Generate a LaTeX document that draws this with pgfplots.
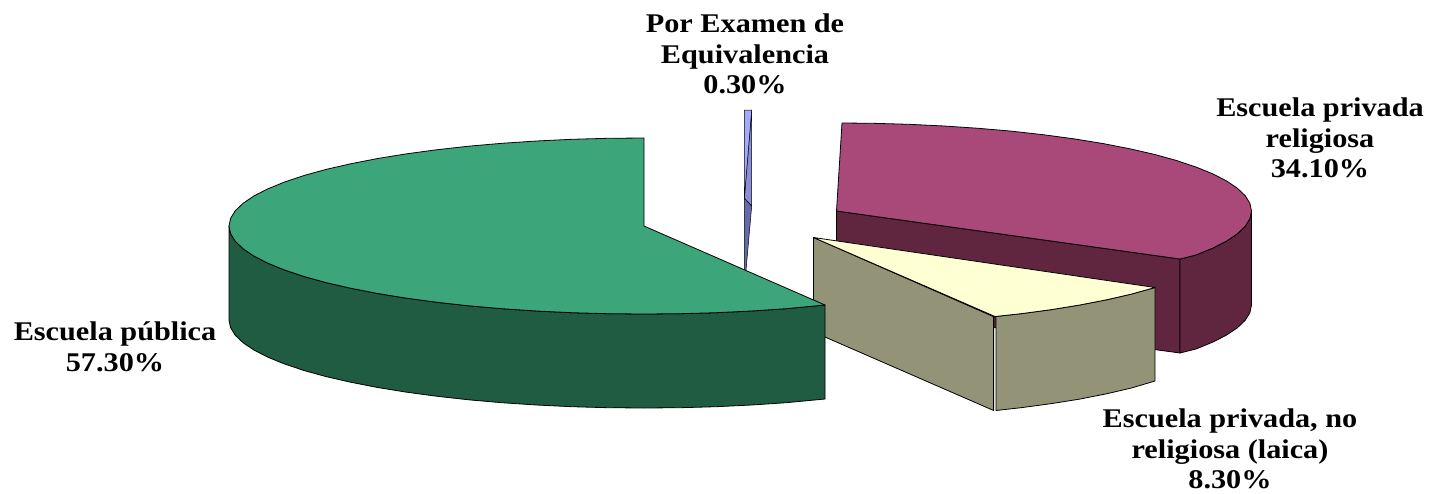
\documentclass[border=0pt]{standalone}
\usepackage{pgfplots}
\pgfplotsset{compat=1.18}
\usepackage{fontspec}
\setmainfont[FakeStretch=1.12]{Liberation Serif}
\definecolor{gtop}{HTML}{3CA67A}
\definecolor{gwall}{HTML}{1F5C42}
\definecolor{mtop}{HTML}{A8497A}
\definecolor{mwall}{HTML}{60263F}
\definecolor{ctop}{HTML}{FFFFD4}
\definecolor{cwall}{HTML}{939378}
\definecolor{btop}{HTML}{A6AAFF}
\definecolor{bmid}{HTML}{8A8ED6}
\definecolor{bwall}{HTML}{666AA8}
\tikzset{lab/.style={font=\fontsize{27}{30.5}\selectfont\bfseries, align=center, text=black, inner sep=0pt}}
\begin{document}
\begin{tikzpicture}
\useasboundingbox (0,0) rectangle (1440pt,493pt);
\begin{axis}[
  at={(0,0)}, anchor=south west,
  scale only axis, width=1440pt, height=493pt,
  xmin=0, xmax=1440, ymin=0, ymax=493, y dir=reverse,
  hide axis, clip=false,
  every axis plot/.append style={draw=black, line width=0.8pt, line join=round, mark=none},
]
% Escuela privada religiosa
\addplot[fill=mwall] coordinates {(836.5,211)(1180,259)(1180,353)(836.5,306)} -- cycle;
\addplot[fill=mwall] coordinates {(1251.5,211)(1249.9,218.7)(1245.2,226.3)(1237.3,233.8)(1226.5,241.1)(1212.6,248.2)(1195.9,255)(1180,259)(1180,353)(1195.9,349)(1212.6,342.2)(1226.5,335.1)(1237.3,327.8)(1245.2,320.3)(1249.9,312.7)(1251.5,305)} -- cycle;
\addplot[fill=mtop] coordinates {(836.5,211)(842,123)(872.7,123.3)(908.6,124.3)(943.9,126)(978.4,128.3)(1011.9,131.2)(1044,134.8)(1074.5,138.9)(1103.3,143.6)(1129.9,148.8)(1154.4,154.4)(1176.5,160.5)(1195.9,167)(1212.6,173.8)(1226.5,180.9)(1237.3,188.2)(1245.2,195.7)(1249.9,203.3)(1251.5,211)(1249.9,218.7)(1245.2,226.3)(1237.3,233.8)(1226.5,241.1)(1212.6,248.2)(1195.9,255)(1180,259)} -- cycle;
% Escuela privada, no religiosa
\addplot[fill=cwall] coordinates {(813.5,237.5)(993.6,316.7)(993.6,410.5)(813.5,332)} -- cycle;
\addplot[fill=cwall] coordinates {(996,316.5)(1021,313.7)(1051.5,309.6)(1080.3,304.9)(1107,299.7)(1131.4,294.1)(1155,287.5)(1155,381)(1131.4,388)(1107,393.7)(1080.3,399)(1051.5,403.6)(1021,407.7)(996,410.5)} -- cycle;
\addplot[fill=ctop] coordinates {(813.5,237.5)(995,316.5)(1021,313.7)(1051.5,309.6)(1080.3,304.9)(1107,299.7)(1131.4,294.1)(1155,287.5)} -- cycle;
% Por Examen de Equivalencia
\addplot[fill=bwall, line width=0.5pt] coordinates {(744.3,198)(751.7,206)(746,270)(744.3,270)} -- cycle;
\addplot[fill=bmid, line width=0.5pt] coordinates {(751.7,110)(751.7,206)(744.3,198)} -- cycle;
\addplot[fill=btop, line width=0.5pt] coordinates {(744.3,110)(751.7,110)(744.3,198)} -- cycle;
% Escuela publica
\addplot[fill=gwall] coordinates {(229,226)(230.6,233.7)(235.3,241.3)(243.2,248.8)(254,256.1)(267.9,263.2)(284.6,270)(304,276.5)(326.1,282.6)(350.6,288.2)(377.2,293.4)(406,298.1)(436.5,302.2)(468.6,305.8)(502,308.7)(536.6,311)(572,312.7)(607.8,313.7)(644,314)(680.2,313.7)(716,312.7)(751.4,311)(786,308.7)(825,305)(825,399)(786,402.7)(751.4,405)(716,406.7)(680.2,407.7)(644,408)(607.8,407.7)(572,406.7)(536.6,405)(502,402.7)(468.6,399.8)(436.5,396.2)(406,392.1)(377.2,387.4)(350.6,382.2)(326.1,376.6)(304,370.5)(284.6,364)(267.9,357.2)(254,350.1)(243.2,342.8)(235.3,335.3)(230.6,327.7)(229,320)} -- cycle;
\addplot[fill=gtop] coordinates {(644,226)(644,138)(607.8,138.3)(572,139.3)(536.6,141)(502,143.3)(468.6,146.2)(436.5,149.8)(406,153.9)(377.2,158.6)(350.6,163.8)(326.1,169.4)(304,175.5)(284.6,182)(267.9,188.8)(254,195.9)(243.2,203.2)(235.3,210.7)(230.6,218.3)(229,226)(230.6,233.7)(235.3,241.3)(243.2,248.8)(254,256.1)(267.9,263.2)(284.6,270)(304,276.5)(326.1,282.6)(350.6,288.2)(377.2,293.4)(406,298.1)(436.5,302.2)(468.6,305.8)(502,308.7)(536.6,311)(572,312.7)(607.8,313.7)(644,314)(680.2,313.7)(716,312.7)(751.4,311)(786,308.7)(825,305)} -- cycle;
% labels
\node[lab] at (axis cs:745,54) {Por Examen de\\Equivalencia\\0.30\%};
\node[lab] at (axis cs:1320,138) {Escuela privada\\religiosa\\34.10\%};
\node[lab] at (axis cs:115,347) {Escuela pública\\57.30\%};
\node[lab] at (axis cs:1230,449) {Escuela privada, no\\religiosa (laica)\\8.30\%};
\end{axis}
\end{tikzpicture}
\end{document}
